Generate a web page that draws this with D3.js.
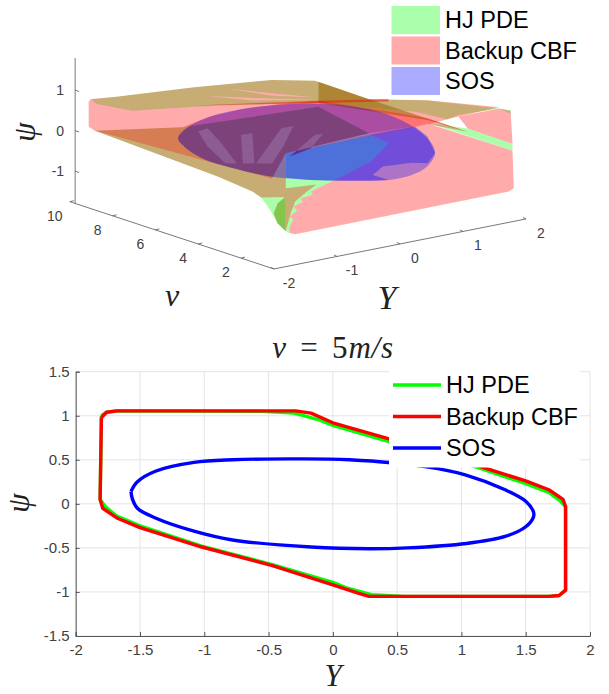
<!DOCTYPE html>
<html>
<head>
<meta charset="utf-8">
<script src="https://cdn.jsdelivr.net/npm/d3@7"></script>
<style>
  html, body { margin: 0; padding: 0; background: #fff; }
  text { font-family: "Liberation Sans", Arial, sans-serif; }
  .math { font-family: "Liberation Serif", "DejaVu Serif", serif; font-style: italic; }
</style>
</head>
<body>
<svg id="chart" width="609" height="694"></svg>
<script>
// legend + tick labels
const seriesNames = ["HJ PDE", "Backup CBF", "SOS"];
const seriesColors = ["#00ff00", "#ff0000", "#0000ff"];
const psiTicks3d = [-1, 0, 1];
const vTicks3d = [2, 4, 6, 8, 10];
const yTicks3d = [-2, -1, 0, 1, 2];
const yTicks2d = [-2, -1.5, -1, -0.5, 0, 0.5, 1, 1.5, 2];
const psiTicks2d = [-1.5, -1, -0.5, 0, 0.5, 1, 1.5];

// slice at v = 5, [Y, psi]
const hjSlice = [[-1.8,1],[-1.76,1.04],[-1.68,1.055],[-0.55,1.05],[-0.3,1.03],[-0.1,0.95],[0,0.89],[0.43,0.71],[1.13,0.41],[1.5,0.23],[1.68,0.13],[1.77,0.03],[1.81,-0.03],[1.81,-0.98],[1.76,-1.04],[1.68,-1.05],[0.55,-1.05],[0.3,-1.03],[0.1,-0.95],[0,-0.89],[-0.47,-0.69],[-1.02,-0.48],[-1.5,-0.25],[-1.68,-0.14],[-1.77,-0.03],[-1.81,0.05],[-1.8,1]];
const backupSlice = [[-1.8,0.98],[-1.76,1.04],[-1.68,1.055],[-0.29,1.055],[-0.17,1.03],[0,0.92],[0.43,0.74],[1.13,0.43],[1.5,0.26],[1.68,0.16],[1.79,0.05],[1.81,-0.03],[1.81,-0.98],[1.76,-1.04],[1.68,-1.05],[0.28,-1.05],[0.19,-1.01],[0,-0.92],[-0.47,-0.7],[-1.02,-0.49],[-1.5,-0.27],[-1.68,-0.16],[-1.79,-0.05],[-1.81,0.05],[-1.8,0.98]];
const sosSlice = [[-1.57,0.14],[-1.52,0.25],[-1.38,0.37],[-1.08,0.47],[-0.78,0.5],[-0.33,0.51],[0.13,0.5],[0.73,0.42],[1.03,0.33],[1.34,0.16],[1.5,0.03],[1.56,-0.09],[1.56,-0.15],[1.5,-0.26],[1.34,-0.37],[1.04,-0.45],[0.58,-0.5],[0.28,-0.51],[-0.17,-0.49],[-0.78,-0.41],[-1.08,-0.31],[-1.38,-0.16],[-1.52,-0.05],[-1.56,0.06],[-1.57,0.14]];

const hjTop = [[-2,9,0.9],[-1.6,9,0.84],[-1.72,5,1.81],[-0.49,5,1.61],[0.19,5,1.38],[1.05,5,0.66],[1.98,5,0.34],[1.76,1,0.91],[1.11,1,0.95],[0.93,1,0.9],[1.79,5,0.12],[0.25,5,0.81],[-0.49,5,1.02],[-1.72,5,1.33],[-1.35,9,0.42],[-1.91,9,0.76]];
const hjTopGapA = [[-1.2,5,1.62],[-0.49,5,1.28],[0.22,5,0.96],[-0.49,5,1.22]];
const hjTopGapB = [[-1.54,5,1.54],[-0.49,5,1.15],[0.22,5,0.9],[-0.8,5,1.2]];
const hjUnder = [[-1.94,9,0.11],[-1.91,5,0.88],[0.25,5,0.72],[1.05,5,-0.18],[-0.27,5,-0.27],[-0.27,5,-1.36],[-0.66,5,-1.24],[-0.8,5,-1.05],[-1.35,5,-0.51]];
const hjMid = [[-0.27,5,-0.27],[1.05,5,-0.21],[1.36,5,-0.52],[1.11,5,-0.86],[0.62,5,-1.12],[0.31,5,-1.25],[-1.23,1,-0.22],[-1.2,1,-0.31],[-1.39,1,-0.33],[-1.36,1,-0.44],[-1.51,1,-0.5],[-1.45,1,-0.62],[-1.57,1,-0.73],[-1.51,1,-0.83],[-1.57,1,-0.98],[-1.57,1,-1.14],[-1.63,1,-1.08],[-1.63,1,-0.22]];
const hjTip = [[-0.66,5,-1.24],[-0.27,5,-1.38],[-1.63,1,-1.08],[-1.76,1,-0.84],[-1.88,1,-0.47]];
const hjSliver = [[2.01,5,-0.23],[1.26,1,0.57],[1.97,1,-0.03],[1.97,1,-0.2]];
const hjCorner = [[1.76,1,0.91],[1.94,1,0.81],[1.94,1,0.72]];
const hjFold = [[0.25,5,1.34],[1.05,5,0.66],[1.26,1,0.49],[1.98,5,-0.14],[0.25,5,0.81]];
const hjTipCore = [[-1.63,1,-0.22],[-1.76,1,-0.35],[-1.82,1,-0.58],[-1.76,1,-0.84],[-1.63,1,-1.08]];

const backupBack = [[-2.04,9,0.86],[-2,9,0.91],[-1.6,9,0.84],[-1.72,5,1.81],[-0.49,5,1.61],[0.19,5,1.38],[1.05,5,0.66],[1.98,5,0.35],[1.76,1,0.94],[1.11,1,0.91],[2.01,5,-0.25],[-0.27,5,-0.27],[-0.27,5,-1.36],[-0.66,5,-1.24],[-0.8,5,-1.05],[-1.35,5,-0.51],[-1.94,9,0.11],[-2.04,9,0.24]];
const backupFront = [[-1.57,1,-1.14],[-1.48,1,-1.2],[1.91,1,-1.19],[1.99,1,-1.13],[1.97,1,-0.2],[2.01,5,-0.25],[1.05,5,-0.21],[1.36,5,-0.52],[1.11,5,-0.86],[0.62,5,-1.12],[0.31,5,-1.25],[-1.23,1,-0.22],[-1.2,1,-0.31],[-1.39,1,-0.33],[-1.36,1,-0.44],[-1.51,1,-0.5],[-1.45,1,-0.62],[-1.57,1,-0.73],[-1.51,1,-0.83],[-1.57,1,-0.98]];
const backupRim = [[1.11,1,0.91],[1.76,1,0.91],[1.94,1,0.79],[1.97,1,-0.03],[1.26,1,0.57]];
const backupTan = [[-0.27,5,-1.13],[0.22,5,-1.19],[0.06,5,-1.32],[-1.48,1,-0.39],[-1.55,1,-0.65],[-1.63,1,-1.08]];
const backupUnder = [[-1.94,9,0.11],[-1.91,5,0.88],[0.25,5,0.72],[1.05,5,-0.18],[-0.27,5,-0.27],[-0.49,5,-0.82],[-1.6,5,-0.02]];
const backupGapA = [[-1.66,5,0.7],[-1.51,5,0.73],[-1.29,5,0.29],[-1.05,5,-0.28],[-1.23,5,-0.22],[-1.51,5,0.28]];
const backupGapB = [[-0.98,5,0.4],[-0.8,5,0.39],[-0.77,5,-0.36],[-0.95,5,-0.31]];
const backupGapC = [[-0.34,5,0.37],[-0.15,5,0.37],[-0.31,5,-0.09],[-0.49,5,-0.45],[-0.74,5,-0.37]];
const backupGapD = [[0.19,5,0.04],[0.32,5,0.03],[0.13,5,-0.27],[-0.21,5,-0.37]];
const backupBand = [[-1.91,5,0.88],[-1.48,5,1.01],[-0.98,5,1.04],[-0.37,5,0.98],[0.25,5,0.87],[1.36,5,0.26],[1.98,5,-0.1],[1.26,1,0.49],[1.98,5,-0.24],[1.78,5,-0.24],[1.05,5,-0.18],[0.25,5,0.72]];
const backupSeam = [[-1.72,5,1.36],[0.25,5,0.87],[1.36,5,0.57],[1.36,5,0.51],[0.25,5,0.81]];
const backupFold = [[0.25,5,1.34],[1.05,5,0.66],[1.26,1,0.49],[1.98,5,-0.14],[0.25,5,0.81]];
const backupTip = [[-1.63,1,-0.22],[-1.76,1,-0.35],[-1.82,1,-0.58],[-1.76,1,-0.84],[-1.63,1,-1.08]];

const sosShell = [[-1.98,5,0.63],[-1.85,5,0.84],[-1.48,5,1.01],[-0.98,5,1.04],[-0.37,5,0.96],[0.13,5,0.83],[0.74,5,0.59],[1.36,5,0.18],[1.79,5,-0.29],[2.04,5,-0.73],[2.1,5,-1],[1.97,5,-1.29],[1.73,5,-1.42],[1.36,5,-1.43],[0.74,5,-1.26],[0.13,5,-1.05],[-0.49,5,-0.78],[-1.11,5,-0.38],[-1.6,5,0.02],[-1.88,5,0.39]];
const sosNear = [[-0.27,5,-0.27],[1.78,5,-0.24],[1.98,5,-0.55],[2.1,5,-1],[1.98,5,-1.21],[1.73,5,-1.12],[1.27,5,-1.07],[1.11,5,-1.23],[1.36,5,-1.43],[0.74,5,-1.26],[0.13,5,-1.05],[-0.27,5,-0.87]];

const svg = d3.select("#chart");
const tickColor = "#404040", axisColor = "#555";

// ---------- 3d view ----------
const xFromY = d3.scaleLinear([-2, 2], [-126, 126]);
const xFromV = d3.scaleLinear([0, 10], [0, -214]);
const yFromY = d3.scaleLinear([-2, 2], [25, -25]);
const yFromV = d3.scaleLinear([0, 10], [0, -70.5]);
const yFromPsi = d3.scaleLinear([-1, 1], [40.5, -40.5]);
const project = ([Y, v, psi]) => [
  409.8 + xFromY(Y) + xFromV(v),
  174.3 + yFromY(Y) + yFromV(v) + yFromPsi(psi)
];

const view3d = svg.append("g");
const psiFloor = -1.8, psiRoof = 1.79, vBack = 9.75, vFront = 0.46;
const segment = (a, b, color) => {
  const [p, q] = [project(a), project(b)];
  view3d.append("line").attr("x1", p[0]).attr("y1", p[1]).attr("x2", q[0]).attr("y2", q[1])
    .attr("stroke", color || axisColor).attr("stroke-width", 0.8);
};
segment([-2, vBack, psiFloor], [-2, vBack, psiRoof]);
segment([-2, 10, psiFloor], [-2, vFront, psiFloor]);
segment([-2, vFront, psiFloor], [2, vFront, psiFloor]);

psiTicks3d.forEach(t => {
  const p = project([-2, vBack, t]);
  view3d.append("line").attr("x1", p[0]).attr("y1", p[1]).attr("x2", p[0] + 4).attr("y2", p[1] + 1.5).attr("stroke", axisColor).attr("stroke-width", 0.8);
  view3d.append("text").attr("x", p[0] - 11).attr("y", p[1] + 5).attr("text-anchor", "end")
    .attr("font-size", 14).attr("fill", tickColor).text(t);
});
vTicks3d.forEach(t => {
  const p = project([-2, t, psiFloor]);
  view3d.append("line").attr("x1", p[0]).attr("y1", p[1]).attr("x2", p[0] + 4).attr("y2", p[1] - 1).attr("stroke", axisColor).attr("stroke-width", 0.8);
  view3d.append("text").attr("x", p[0] - 15).attr("y", p[1] + 19).attr("text-anchor", "middle")
    .attr("font-size", 14).attr("fill", tickColor).text(t);
});
yTicks3d.forEach(t => {
  const p = project([t, vFront, psiFloor]);
  view3d.append("line").attr("x1", p[0]).attr("y1", p[1]).attr("x2", p[0] - 3).attr("y2", p[1] - 1.5).attr("stroke", axisColor).attr("stroke-width", 0.8);
  view3d.append("text").attr("x", p[0] + 15).attr("y", p[1] + 19).attr("text-anchor", "middle")
    .attr("font-size", 14).attr("fill", tickColor).text(t);
});

// paint order matters, the mixed tones come from stacking the transparent surfaces
const ringPath = rings => rings.map(r => "M" + r.map(project).join("L") + "Z").join("");
const shellPath = d3.line().curve(d3.curveCatmullRomClosed)(sosShell.map(project));
svg.append("defs").html('<filter id="soft" x="-5%" y="-5%" width="110%" height="110%"><feGaussianBlur stdDeviation="0.45"/></filter>');
svg.select("defs").append("clipPath").attr("id", "shellClip").append("path").attr("d", shellPath);

const surfaces = view3d.append("g").attr("filter", "url(#soft)");
const patches = [
  [0, [hjTop, hjTopGapA, hjTopGapB]], [0, [hjUnder]], [0, [hjMid]], [0, [hjTip]],
  [0, [hjSliver]], [0, [hjCorner]],
  [1, [backupBack]], [0, [hjFold]], [1, [backupFold]],
  [1, [backupFront]], [1, [backupRim]], [1, [backupTan]],
  [1, [backupUnder, backupGapA, backupGapB, backupGapC, backupGapD], 0.27],
  [1, [backupGapA, backupGapB, backupGapC, backupGapD], 0.2],
  [1, [backupBand]], [1, [backupSeam], 0.45], [1, [backupTip]],
  [0, [hjTipCore]], [2, [sosNear]]
];
surfaces.selectAll("path.patch").data(patches).enter().append("path")
  .attr("class", "patch")
  .attr("d", d => ringPath(d[1]))
  .attr("fill", d => seriesColors[d[0]])
  .attr("fill-opacity", d => d[2] || 0.33)
  .attr("fill-rule", "evenodd");
surfaces.append("path").attr("d", shellPath)
  .attr("fill", seriesColors[2]).attr("fill-opacity", 0.33);
// darker wall inside the ellipsoid, only over the red layers behind it (the gaps stay lighter)
surfaces.append("g").attr("clip-path", "url(#shellClip)").append("path")
  .attr("d", ringPath([backupUnder, backupGapA, backupGapB, backupGapC, backupGapD]))
  .attr("fill", "#300030").attr("fill-opacity", 0.2).attr("fill-rule", "evenodd");

view3d.append("text").attr("class", "math").attr("transform", "translate(35,132) rotate(-90)")
  .attr("text-anchor", "middle").attr("font-size", 31).attr("fill", "#222").text("ψ");
view3d.append("text").attr("class", "math").attr("x", 172).attr("y", 306)
  .attr("text-anchor", "middle").attr("font-size", 32).attr("fill", "#222").text("v");
view3d.append("text").attr("class", "math").attr("x", 387).attr("y", 309)
  .attr("text-anchor", "middle").attr("font-size", 34).attr("fill", "#222").text("Y");

const legend3d = d3.scaleBand().domain(seriesNames).range([6, 95]).paddingInner(0.08);
seriesNames.forEach((name, i) => {
  view3d.append("rect").attr("x", 391.5).attr("y", legend3d(name)).attr("width", 48.5).attr("height", legend3d.bandwidth())
    .attr("fill", seriesColors[i]).attr("fill-opacity", 0.33);
  view3d.append("text").attr("x", 445).attr("y", legend3d(name) + legend3d.bandwidth() / 2 + 8)
    .attr("font-size", 23.5).attr("fill", "#000").text(name);
});

// ---------- slice at v = 5 ----------
const x2d = d3.scaleLinear([-2, 2], [75.7, 590]);
const y2d = d3.scaleLinear([-1.5, 1.5], [636, 371.7]);
const view2d = svg.append("g");

view2d.append("g").selectAll("line").data(yTicks2d).enter().append("line")
  .attr("x1", d => x2d(d)).attr("x2", d => x2d(d)).attr("y1", y2d(-1.5)).attr("y2", y2d(1.5))
  .attr("stroke", "#e4e4e4").attr("stroke-width", 1);
view2d.append("g").selectAll("line").data(psiTicks2d).enter().append("line")
  .attr("x1", x2d(-2)).attr("x2", x2d(2)).attr("y1", d => y2d(d)).attr("y2", d => y2d(d))
  .attr("stroke", "#e4e4e4").attr("stroke-width", 1);

const xAxis = view2d.append("g").attr("transform", `translate(0,${y2d(-1.5)})`)
  .call(d3.axisBottom(x2d).tickValues(yTicks2d).tickSize(-4).tickPadding(8).tickFormat(d => d));
const yAxis = view2d.append("g").attr("transform", `translate(${x2d(-2)},0)`)
  .call(d3.axisLeft(y2d).tickValues(psiTicks2d).tickSize(-4).tickPadding(6).tickFormat(d => d));
[xAxis, yAxis].forEach(a => {
  a.selectAll("text").attr("font-size", 15).attr("fill", tickColor).style("font-family", '"Liberation Sans", Arial, sans-serif');
  a.selectAll("line").attr("stroke", axisColor);
  a.select(".domain").attr("stroke", axisColor);
});

const line2d = d3.line().x(d => x2d(d[0])).y(d => y2d(d[1]));
[hjSlice, backupSlice].forEach((pts, i) => {
  view2d.append("path").attr("d", line2d(pts)).attr("fill", "none")
    .attr("stroke", seriesColors[i]).attr("stroke-width", 3.4).attr("stroke-linejoin", "round");
});
view2d.append("path").attr("d", line2d.curve(d3.curveCatmullRom)(sosSlice)).attr("fill", "none")
  .attr("stroke", seriesColors[2]).attr("stroke-width", 3.4).attr("stroke-linejoin", "round");

view2d.append("rect").attr("x", 389).attr("y", 371).attr("width", 191).attr("height", 96.5).attr("fill", "#fff");
const legend2d = d3.scalePoint().domain(seriesNames).range([385, 448]);
seriesNames.forEach((name, i) => {
  view2d.append("line").attr("x1", 393).attr("x2", 441).attr("y1", legend2d(name)).attr("y2", legend2d(name))
    .attr("stroke", seriesColors[i]).attr("stroke-width", 3.4);
  view2d.append("text").attr("x", 446).attr("y", legend2d(name) + 8)
    .attr("font-size", 23.5).attr("fill", "#000").text(name);
});

const title = view2d.append("text").attr("class", "math").attr("x", 333).attr("y", 358)
  .attr("text-anchor", "middle").attr("font-size", 31).attr("fill", "#222").attr("word-spacing", 5).attr("letter-spacing", 0.8);
title.append("tspan").text("v ");
title.append("tspan").attr("font-style", "normal").text("= 5");
title.append("tspan").text("m/s");
view2d.append("text").attr("class", "math").attr("transform", "translate(29,503) rotate(-90)")
  .attr("text-anchor", "middle").attr("font-size", 31).attr("fill", "#222").text("ψ");
view2d.append("text").attr("class", "math").attr("x", 333).attr("y", 686)
  .attr("text-anchor", "middle").attr("font-size", 31).attr("fill", "#222").text("Y");
</script>
</body>
</html>
